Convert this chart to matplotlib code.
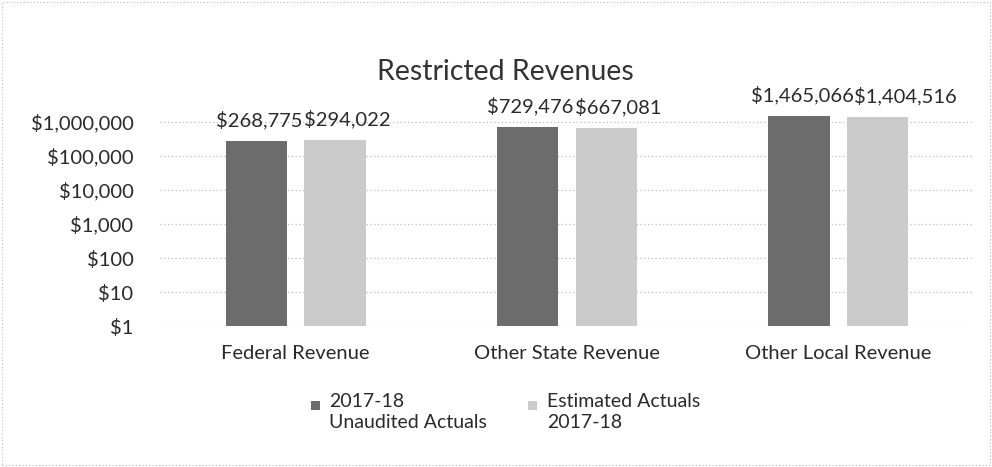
import matplotlib
matplotlib.use("Agg")
import matplotlib.pyplot as plt
from matplotlib.patches import Rectangle
import numpy as np

categories = ["Federal Revenue", "Other State Revenue", "Other Local Revenue"]
series_names = ["2017-18\nUnaudited Actuals", "Estimated Actuals\n2017-18"]
unaudited = [268775, 729476, 1465066]
estimated = [294022, 667081, 1404516]
tick_values = [1, 10, 100, 1000, 10000, 100000, 1000000]
tick_labels = ["$1", "$10", "$100", "$1,000", "$10,000", "$100,000", "$1,000,000"]
title = "Restricted Revenues"

plt.rcParams['font.family'] = ['Lato', 'DejaVu Sans']

W, H = 992, 467
fig = plt.figure(figsize=(W / 100, H / 100), dpi=100)
ax_l, ax_r, ax_b, ax_t = 160, 974, 326, 105
ax = fig.add_axes([ax_l / W, 1 - ax_b / H, (ax_r - ax_l) / W, (ax_b - ax_t) / H])

colors = ["#6c6c6c", "#cbcbcb"]
text_color = "#2a2a2a"
x = np.arange(len(categories))
bw = 0.225
off = 0.145
label_sets = []
for vals, dx, c in [(unaudited, -off, colors[0]), (estimated, off, colors[1])]:
    bars = ax.bar(x + dx, vals, width=bw, color=c, zorder=3)
    anns = []
    for b, v in zip(bars, vals):
        a = ax.annotate(f"${v:,.0f}", (b.get_x() + b.get_width() / 2, v),
                        xytext=(3, 21), textcoords="offset pixels",
                        ha="center", va="center", fontsize=14.5, color=text_color)
        anns.append(a)
    label_sets.append(anns)

ax.set_yscale("log")
ax.set_ylim(1, 10 ** ((ax_b - ax_t) / 34))
ax.set_xlim(-0.5, 2.5)
ax.set_yticks(tick_values)
ax.set_yticklabels(tick_labels)
ax.minorticks_off()
ax.set_xticks(x)
ax.set_xticklabels(categories)
ax.tick_params(axis="both", length=0, labelsize=14.5, colors=text_color)
ax.tick_params(axis="x", pad=14)
ax.tick_params(axis="y", pad=19)
ax.grid(axis="y", linestyle=(0, (1, 2)), color="#bdbdbd", linewidth=0.9, zorder=0)
for s in ax.spines.values():
    s.set_visible(False)

fig.text(505 / W, 1 - 72 / H, title, ha="center", va="center", fontsize=20.5, color="#333333")

# legend (square aligned with first line of two-line labels)
sq_x = [311, 528]
txt_x = [329, 547]
for i, name in enumerate(series_names):
    fig.patches.append(Rectangle((sq_x[i] / W, 1 - 410 / H), 9 / W, 9 / H,
                                 transform=fig.transFigure, facecolor=colors[i],
                                 edgecolor="none"))
    fig.text(txt_x[i] / W, 1 - 393 / H, name, ha="left", va="top", fontsize=14,
             linespacing=1.25, color=text_color)

fig.patches.append(Rectangle((2 / W, 2 / H), 1 - 4 / W, 1 - 4 / H, transform=fig.transFigure,
                             fill=False, edgecolor="#bbbbbb", linestyle=(0, (1, 2)), linewidth=0.8))

# push second-series labels right so they do not collide with the first-series labels
fig.canvas.draw()
r = fig.canvas.get_renderer()
for a1, a2 in zip(label_sets[0], label_sets[1]):
    b1 = a1.get_window_extent(r)
    b2 = a2.get_window_extent(r)
    need = b1.x1 + 1 - b2.x0
    if need > 0:
        dx, dy = a2.xyann
        a2.xyann = (dx + need, dy)

fig.savefig("out.png", dpi=100)
